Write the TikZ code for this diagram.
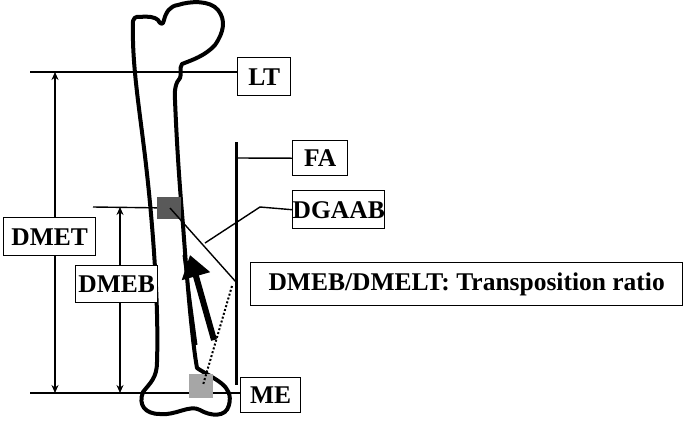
\documentclass[tikz,border=0pt]{standalone}
\usepackage{fontspec}
\setmainfont{Liberation Serif}
\usetikzlibrary{arrows.meta}
\begin{document}
\begin{tikzpicture}[x=1pt,y=-1pt,
  lbl/.style={draw,fill=white,line width=1.4pt,font=\bfseries\fontsize{25.5}{26}\selectfont,inner sep=0pt,anchor=north west},
  thin/.style={line width=1.4pt},
  dim/.style={line width=2pt,{Stealth[length=8pt,width=7pt]}-{Stealth[length=8pt,width=7pt]}}]
\useasboundingbox (0,0) rectangle (685,429);
% coordinates
\coordinate (ltL) at (30,72);
\coordinate (meL) at (30,393);
\coordinate (ebL) at (93,207);
\coordinate (sq) at (170,208);
\coordinate (faT) at (236,142);
\coordinate (faB) at (236,385);
\coordinate (faM) at (236,158);
\coordinate (faP) at (236,282);
\coordinate (dgA) at (205,243);
\coordinate (dgB) at (260,207);
\coordinate (lsq) at (203,385);
\coordinate (arT) at (190,255);
\coordinate (arB) at (214,340);
\coordinate (dmT) at (55,72);
\coordinate (dmB) at (55,393);
\coordinate (dbT) at (120,207);
\coordinate (dbB) at (120,393);
% dimension arrows (behind labels)
\draw[dim] (dmT) -- (dmB);
\draw[dim] (dbT) -- (dbB);
\draw[thin] (ltL) -- (237,72);
\draw[thin] (meL) -- (240,393);
\draw[thin] (ebL) -- (sq);
% bone outline
\draw[line width=4pt,line join=round] (133,25) .. controls (132,18) and (136,16) .. (140,17)
  .. controls (148,16) and (155,17) .. (158,20) .. controls (160,24) and (163,26) .. (164,20)
  .. controls (166,12) and (170,6) .. (178,5) .. controls (190,1) and (210,0) .. (218,10)
  .. controls (226,20) and (224,32) .. (215,45) .. controls (205,56) and (192,60) .. (182,64)
  .. controls (179,68) and (182,74) .. (180,78) .. controls (176,82) and (174,90) .. (175,100)
  .. controls (177,150) and (180,190) .. (183,225)
  .. controls (187,280) and (192,340) .. (197,368) .. controls (215,380) and (234,385) .. (229,405)
  .. controls (226,418) and (210,416) .. (200,410) .. controls (190,404) and (175,416) .. (160,414)
  .. controls (145,414) and (138,405) .. (143,392) .. controls (150,383) and (157,378) .. (157,362)
  .. controls (159,300) and (152,210) .. (143,140) .. controls (138,100) and (132,60) .. (133,25) -- cycle;
\draw[line width=3pt] (184,255) -- (196,345);
% squares
\fill[black!65] (157,197) rectangle (181,219);
\fill[black!35] (189,374) rectangle (213,398);
% labels
\node[lbl,minimum width=53pt,minimum height=38pt] (lt) at (237,57) {LT};
\node[lbl,minimum width=55pt,minimum height=35pt] (fa) at (292,140) {FA};
\node[lbl,minimum width=91pt,minimum height=38pt] (dg) at (292,190) {DGAAB};
\node[lbl,minimum width=92pt,minimum height=38pt] (dmet) at (3,217) {DMET};
\node[lbl,minimum width=82pt,minimum height=37pt] (dmeb) at (75,265) {DMEB};
\node[lbl,minimum width=432pt,minimum height=43pt] (tr) at (250,262) {DMEB/DMELT: Transposition ratio};
\node[lbl,minimum width=60pt,minimum height=35pt] (me) at (240,377) {ME};
% lines
\draw[line width=3pt] (faT) -- (faB);
\draw[thin] (faM) -- (fa.west);
\draw[thin] (sq) -- (faP);
\draw[thin] (dgA) -- (dgB) -- (dg.west);
\draw[line width=2pt,dotted] (232,286) -- (lsq);
\draw[line width=6pt,-{Triangle[length=22pt,width=28pt]}] (arB) -- (arT);
\end{tikzpicture}
\end{document}
